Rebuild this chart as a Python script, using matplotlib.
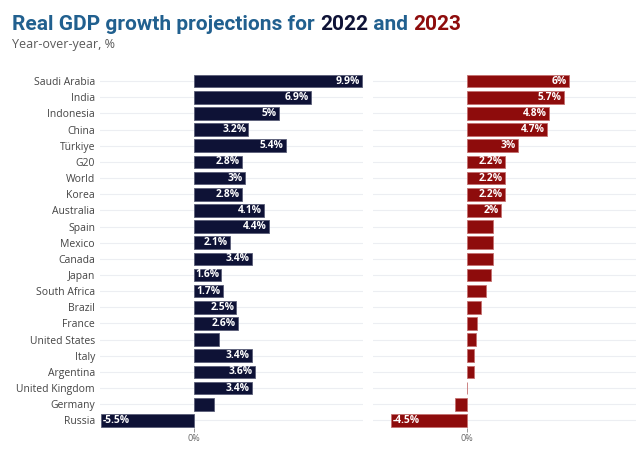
"""Real GDP growth projections for 2022 and 2023: two side-by-side horizontal bar panels."""

import matplotlib.pyplot as plt
import numpy as np

countries = [
    "Saudi Arabia", "India", "Indonesia", "China", "Türkiye", "G20", "World",
    "Korea", "Australia", "Spain", "Mexico", "Canada", "Japan", "South Africa",
    "Brazil", "France", "United States", "Italy", "Argentina", "United Kingdom",
    "Germany", "Russia",
]
growth_2022 = [9.9, 6.9, 5.0, 3.2, 5.4, 2.8, 3.0, 2.8, 4.1, 4.4, 2.1, 3.4, 1.6,
               1.7, 2.5, 2.6, 1.5, 3.4, 3.6, 3.4, 1.2, -5.5]
growth_2023 = [6.0, 5.7, 4.8, 4.7, 3.0, 2.2, 2.2, 2.2, 2.0, 1.5, 1.5, 1.5, 1.4,
               1.1, 0.8, 0.6, 0.5, 0.4, 0.4, 0.0, -0.7, -4.5]

NAVY = "#0e1236"
RED = "#8e0c0c"
TITLE_BLUE = "#21608f"
LABEL_MIN = 1.6  # bars narrower than this get no value label

plt.rcParams["font.family"] = ["Open Sans", "DejaVu Sans"]


def draw_panel(ax, values, color, edge):
    """Draw one panel of horizontal bars with value labels inside the bar ends."""
    y = np.arange(len(values))
    ax.barh(y, values, height=0.78, color=color, edgecolor=edge,
            linewidth=0.6, zorder=3)
    for yi, v in zip(y, values):
        if abs(v) < LABEL_MIN:
            continue
        if v >= 0:
            ax.text(v - 0.12, yi, f"{v:g}%", ha="right", va="center",
                    color="white", fontsize=7.4, fontweight="bold", zorder=4)
        else:
            ax.text(v + 0.12, yi, f"{v:g}%", ha="left", va="center",
                    color="white", fontsize=7.4, fontweight="bold", zorder=4)

    ax.set_xlim(-5.55, 9.95)
    ax.set_ylim(len(values) - 0.5, -0.5)
    for spine in ax.spines.values():
        spine.set_visible(False)
    ax.set_yticks(y)
    ax.grid(axis="y", color="#eceef2", linewidth=0.8, zorder=0)
    ax.set_xticks([0])
    ax.set_xticklabels(["0%"])
    ax.tick_params(axis="x", length=3, width=0.6, color="#888888",
                   labelsize=6.5, labelcolor="#666666", pad=1)
    ax.tick_params(axis="y", length=0)


fig = plt.figure(figsize=(6.4, 4.51), dpi=100)
fig.patch.set_facecolor("white")

bottom, height = 0.05, 0.788
ax1 = fig.add_axes([0.156, bottom, 0.411, height])
ax2 = fig.add_axes([0.583, bottom, 0.411, height])

draw_panel(ax1, growth_2022, NAVY, "#5a5e78")
draw_panel(ax2, growth_2023, RED, "#c47070")

ax1.set_yticklabels(countries, fontsize=7.5, color="#444444")
ax2.set_yticklabels([])

# Multi-coloured title, pieces placed one after another
renderer = fig.canvas.get_renderer()
x = 0.019
for piece, col in [("Real GDP growth projections for ", TITLE_BLUE),
                   ("2022", NAVY), (" and ", TITLE_BLUE), ("2023", RED)]:
    t = fig.text(x, 0.933, piece, color=col, fontsize=15, fontweight="bold",
                 family=["Roboto", "DejaVu Sans"], ha="left", va="baseline")
    bb = t.get_window_extent(renderer=renderer)
    x += bb.width / fig.bbox.width

fig.text(0.019, 0.893, "Year-over-year, %", fontsize=9, color="#5a5a5a",
         ha="left", va="baseline")

fig.savefig("out.png", dpi=100)
plt.close(fig)
